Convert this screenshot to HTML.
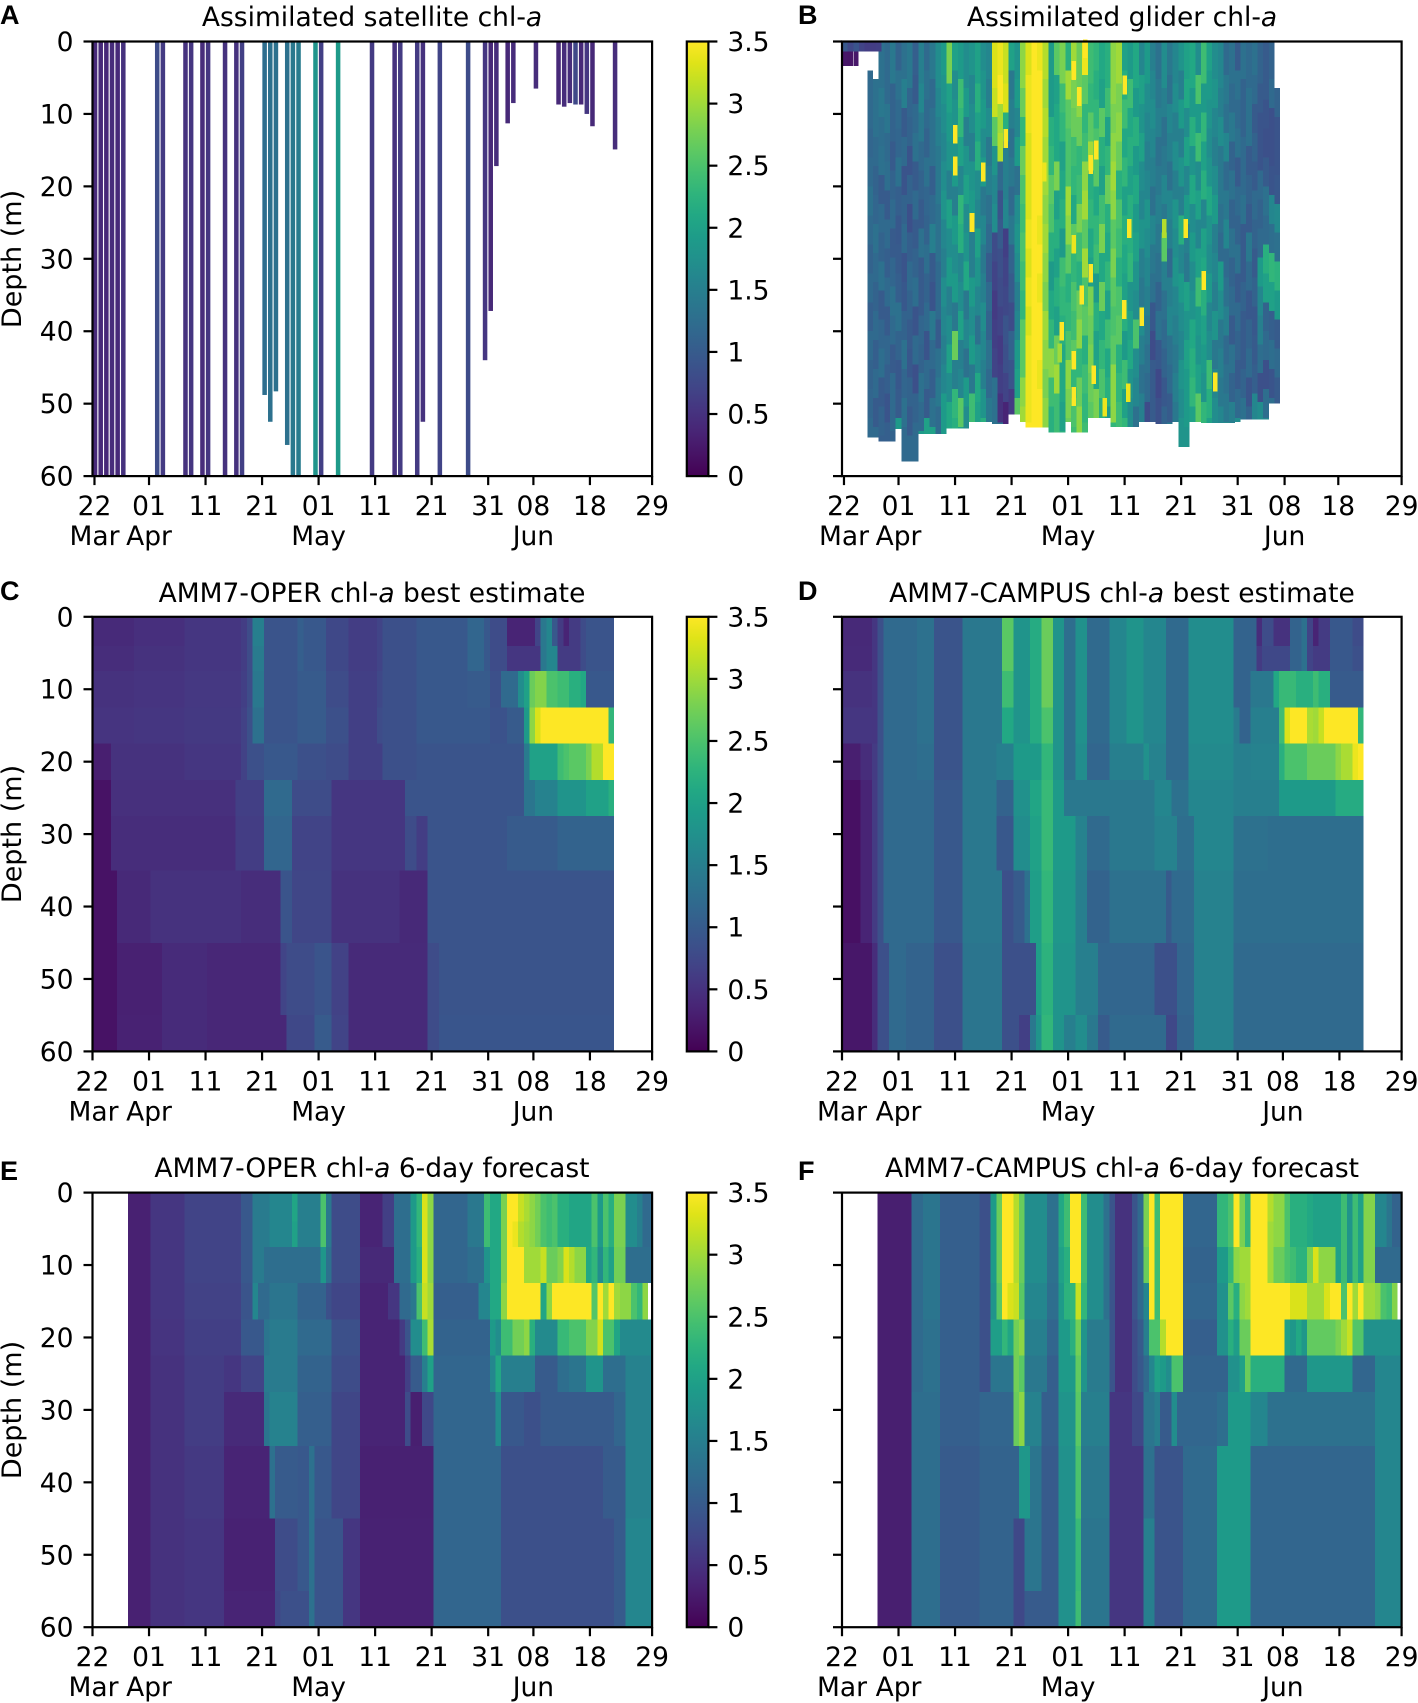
<!DOCTYPE html>
<html lang="en">
<head>
<meta charset="utf-8">
<title>Chlorophyll-a depth-time panels</title>
<style>
html,body{margin:0;padding:0;background:#fff}
svg{display:block}
text{font-family:"DejaVu Sans","Liberation Sans",sans-serif;fill:#000}
.letter{font-family:"Liberation Sans",sans-serif;font-weight:bold;font-size:27px}
.title{font-size:26.5px;text-anchor:middle}
.tick{font-size:26.5px}
.axis-title{font-size:27px}
</style>
</head>
<body>
<svg id="figure" xmlns="http://www.w3.org/2000/svg" width="1418" height="1703" viewBox="0 0 1418 1703">
<defs>
<linearGradient id="viridis-gradient" x1="0" y1="1" x2="0" y2="0"></linearGradient>
</defs>
<g id="plots"></g>
<text class="letter" x="0" y="24">A</text>
<text class="letter" x="798" y="24">B</text>
<text class="letter" x="0" y="600">C</text>
<text class="letter" x="798" y="600">D</text>
<text class="letter" x="0" y="1180">E</text>
<text class="letter" x="798" y="1180">F</text>
<text class="title" x="372" y="26">Assimilated satellite chl-<tspan font-style="italic">a</tspan></text>
<text class="title" x="1122" y="26">Assimilated glider chl-<tspan font-style="italic">a</tspan></text>
<text class="title" x="372" y="602">AMM7-OPER chl-<tspan font-style="italic">a</tspan> best estimate</text>
<text class="title" x="1122" y="602">AMM7-CAMPUS chl-<tspan font-style="italic">a</tspan> best estimate</text>
<text class="title" x="372" y="1177">AMM7-OPER chl-<tspan font-style="italic">a</tspan> 6-day forecast</text>
<text class="title" x="1122" y="1177">AMM7-CAMPUS chl-<tspan font-style="italic">a</tspan> 6-day forecast</text>
<text class="axis-title" text-anchor="middle" transform="translate(21 259) rotate(-90)">Depth (m)</text>
<text class="axis-title" text-anchor="middle" transform="translate(21 834) rotate(-90)">Depth (m)</text>
<text class="axis-title" text-anchor="middle" transform="translate(21 1410) rotate(-90)">Depth (m)</text>
</svg>
<script>
// ---------- colour map ----------
const viridisStops = ["#440154","#471365","#482475","#463480","#414487","#3b528b","#355f8d","#2f6c8e","#2a788e","#25848e","#21918c","#1e9c89","#22a884","#2fb47c","#44bf70","#5ec962","#7ad151","#9bd93c","#bddf26","#dfe318","#fde725"];
const colorTicks = [0,0.5,1,1.5,2,2.5,3,3.5];
const colorTickLabels = ["0","0.5","1","1.5","2","2.5","3","3.5"];
const depthTicks = [0,10,20,30,40,50,60];

// ---------- x axes: days since 22 March ----------
const dateLabels = ["22","01","11","21","01","11","21","31","08","18","29"];
const monthLabels = ["Mar","Apr","May","Jun"];
const monthTickIndex = [0,1,4,8];
const satelliteTickDays = [0.35,10,20,30,40,50,60,70,78,88,99];
const gliderTickDays = [0.35,10,20,30,40,50,60,70,78.3,87.8,99];
const modelTickDays = [0,10,20,30,40,50,60,70,78,88,99];

// ---------- model layers: depth boundaries in metres ----------
const layerEdges = [0,4,7.5,12.5,17.5,22.5,27.5,35,45,55,60];

// ---------- A: satellite (day, chl-a, penetration depth) ----------
const satelliteDays = [0,1,2,3,4,5,11,12,16,17,19,20,23,25,26,30,31,32,34,35,36,39,40,43,49,53,54,57,58,61,66,69,70,71,73,74,78,82,83,84,85,86,87,88,92];
const satelliteValues = [0.4,0.42,0.4,0.45,0.42,0.5,0.8,0.6,0.5,0.55,0.45,0.55,0.5,0.5,0.65,1.25,1.3,1.3,1.3,1.4,1.45,1.8,0.65,1.9,0.6,0.5,0.6,0.6,0.5,0.7,0.8,0.55,0.4,0.45,0.4,0.45,0.45,0.4,0.45,0.45,0.75,0.4,0.55,0.4,0.45];
const satelliteDepths = [60,60,60,60,60,60,60,60,60,60,60,60,60,60,60,48.8,52.5,48.3,55.7,60,60,60,60,60,60,60,60,60,52.5,60,60,44,37.2,17.2,11.3,8.5,6.5,8.7,9,8.5,8.7,8.7,10,11.7,14.9];

// ---------- B: glider (one array per 4 m depth band, days 5..77) ----------
const gliderFirstDay = 5;
const gliderBandDepth = 4;
const gliderBand00 = [null,null,1.3,1.2,1.4,1.1,1.3,1.4,1.05,1.5, 1.2,1.4,1.7,1.9,2.8,2.0,1.9,1.7,1.8,2.0, 1.7,1.6,3.3,3.4,3.2,2.0,1.8,2.9,3.3,3.5, 3.4,3.1,1.9,2.6,2.8,2.2,3.0,2.7,3.4,2.4, 2.3,2.1,2.2,2.9,3.0,2.0,1.9,2.1,1.6,1.9, 1.5,1.3,1.7,1.4,1.6,1.8,2.0,2.1,1.7,2.4, 2.0,1.7,1.6,1.2,1.3,1.0,1.3,1.2,1.3,1.1, 1.0,1.1,null];
const gliderBand04 = [1.2,1.3,1.4,1.2,1.1,1.3,1.5,1.15,1.0,1.6, 1.3,1.2,1.6,1.8,2.0,1.7,2.4,1.9,1.6,2.2, 1.8,1.5,3.2,3.5,3.3,1.4,1.9,2.7,3.4,3.5, 3.5,3.0,1.9,2.0,2.4,3.0,2.8,2.9,2.6,2.3, 2.2,2.0,2.4,2.9,2.8,2.2,2.4,1.9,2.0,1.7, 1.6,1.4,1.5,1.3,1.7,1.5,2.1,1.9,2.5,1.9, 1.9,1.8,1.5,1.4,1.2,1.3,1.1,1.3,1.2,1.0, 1.0,1.2,1.1];
const gliderBand08 = [1.2,1.3,1.25,1.35,1.1,1.2,1.0,1.1,1.2,1.4, 1.2,1.3,1.5,1.7,1.9,1.8,2.3,1.5,1.7,2.0, 1.9,1.7,2.6,3.0,2.2,1.5,1.6,2.3,3.4,3.5, 3.5,3.1,2.2,2.1,2.3,2.6,2.7,2.7,2.3,2.6, 2.3,2.6,2.0,2.8,2.9,2.4,2.1,2.2,1.8,1.6, 1.7,1.5,1.3,1.6,1.5,1.9,1.7,2.2,1.9,2.3, 1.8,1.6,1.7,1.3,1.4,1.2,1.1,1.3,1.0,0.9, 0.9,0.85,0.9];
const gliderBand12 = [1.15,1.2,1.3,1.2,1.0,1.15,1.2,0.9,1.3,1.2, 1.1,1.3,1.4,1.6,1.8,1.8,2.0,1.8,1.5,2.2, 1.7,1.4,1.8,3.1,1.5,1.3,1.9,2.7,3.3,3.5, 3.5,3.0,2.3,2.1,2.0,2.5,2.4,2.3,2.4,3.0, 2.5,2.2,2.3,2.9,2.7,2.1,2.2,1.9,2.0,1.5, 1.6,1.3,1.4,1.5,1.7,1.5,2.0,1.8,2.4,2.0, 1.7,1.5,1.4,1.6,1.1,1.3,1.2,1.0,1.1,0.9, 0.85,0.85,0.9];
const gliderBand16 = [1.2,1.1,1.0,1.25,1.1,1.3,0.9,1.1,1.0,1.1, 1.3,1.05,1.4,1.7,1.5,1.9,1.6,2.0,1.8,1.7, 1.9,1.5,1.6,1.2,1.5,1.4,1.3,2.5,3.3,3.5, 3.5,3.0,2.6,2.8,2.1,2.5,2.3,2.4,2.9,2.2, 2.6,2.0,2.7,3.0,2.2,2.3,2.0,2.1,1.7,1.6, 1.5,1.4,1.6,1.3,1.5,1.8,1.6,2.1,1.7,2.2, 1.8,1.7,1.4,1.2,1.3,1.0,1.2,1.1,1.0,1.2, 1.0,0.9,0.95];
const gliderBand20 = [1.3,1.15,1.2,1.0,1.2,1.05,1.1,0.85,1.2,1.0, 1.15,1.2,1.3,1.8,2.0,1.5,2.3,1.7,1.9,1.6, 1.4,1.3,1.7,0.9,1.6,1.2,1.7,2.4,3.3,3.5, 3.5,2.9,2.5,2.0,2.2,3.0,2.1,2.8,3.0,2.3, 2.1,2.4,2.2,2.9,2.5,2.0,2.2,1.9,1.6,1.8, 1.3,1.5,1.4,1.6,1.8,1.5,1.9,1.7,2.0,1.6, 2.1,1.9,1.3,1.4,1.1,1.2,1.3,1.0,1.2,1.1, 1.3,1.6,1.65];
const gliderBand24 = [1.2,1.3,1.1,1.2,1.0,0.95,1.2,1.05,1.0,1.3, 1.1,1.5,1.3,1.6,1.7,1.9,2.2,1.8,1.5,2.0, 1.6,1.2,0.8,1.0,0.65,1.4,1.8,2.5,3.4,3.5, 3.4,3.0,2.2,2.2,1.9,2.9,2.6,2.4,2.6,2.1, 2.3,2.8,2.1,2.6,2.4,2.2,2.2,2.0,1.8,1.7, 1.6,1.4,2.6,1.5,1.7,2.2,1.5,1.9,1.6,2.0, 1.8,1.5,1.2,1.6,1.3,1.1,1.0,1.4,1.1,1.2, 1.2,1.25,1.3];
const gliderBand28 = [1.1,1.2,1.3,1.05,1.15,1.0,0.9,1.2,1.1,1.0, 1.25,1.0,1.2,1.5,1.9,1.7,1.6,2.1,1.5,1.8, 1.4,1.0,0.7,0.85,0.7,1.1,1.7,2.4,3.3,3.5, 3.5,2.9,1.9,2.0,2.4,2.6,2.3,2.2,3.0,2.0, 2.4,2.1,2.3,2.8,2.2,2.1,2.3,1.8,1.5,1.6, 1.4,1.3,1.5,1.2,1.8,1.6,1.4,1.7,2.0,2.1, 1.7,1.6,1.9,1.2,1.1,1.3,1.0,1.2,1.0,1.9, 2.2,2.3,2.25];
const gliderBand32 = [1.2,1.1,1.0,1.2,1.3,1.05,0.95,1.1,1.25,1.0, 1.1,0.9,1.2,1.7,1.5,1.9,1.7,1.4,1.9,1.6, 1.5,1.2,0.6,0.8,0.75,1.0,1.5,2.3,3.4,3.5, 3.4,2.8,2.1,2.2,2.3,2.2,2.5,2.7,2.5,2.8, 1.9,2.7,2.0,2.6,2.5,2.0,1.8,1.7,1.4,1.5, 1.3,1.1,1.3,1.5,1.6,1.9,2.0,1.8,2.4,2.2, 1.9,1.5,1.7,1.3,1.2,1.0,1.1,0.95,1.1,1.6, 2.0,2.0,1.9];
const gliderBand36 = [1.05,1.2,1.15,1.0,1.2,1.3,1.1,1.0,0.9,1.15, 1.2,1.4,1.0,1.6,1.7,1.4,2.0,1.6,1.7,1.3, 1.7,1.1,0.65,0.7,0.9,0.8,1.6,2.6,3.3,3.5, 3.5,3.0,2.3,2.0,2.2,2.3,2.4,2.9,2.6,2.7, 2.2,2.1,2.4,2.5,2.6,2.2,2.0,2.5,1.7,1.4, 0.95,1.3,1.2,1.6,1.5,1.7,1.8,2.1,1.9,2.0, 1.6,1.8,1.4,1.5,1.0,1.2,1.0,1.1,0.95,1.5, 1.1,1.05,1.0];
const gliderBand40 = [1.2,1.05,1.25,1.15,1.0,1.1,1.3,0.95,1.2,1.1, 0.9,1.2,1.3,1.5,2.0,2.7,1.5,1.3,1.9,1.7, 1.6,1.3,0.7,0.6,0.85,1.1,1.9,2.6,3.4,3.5, 3.5,2.9,2.9,2.7,2.1,2.5,2.6,2.3,2.2,2.8, 2.0,2.3,2.1,2.6,2.2,1.9,2.1,1.7,1.5,1.3, 0.8,0.95,1.1,1.3,1.4,1.6,2.0,2.2,1.8,1.9, 1.7,1.4,1.5,1.2,1.3,1.1,1.0,1.2,1.0,1.25, 1.2,1.25,1.2];
const gliderBand44 = [1.1,1.2,1.0,1.05,1.2,0.95,1.15,1.1,0.85,1.3, 1.2,1.05,1.4,1.6,1.7,1.5,1.6,1.9,1.4,2.1, 1.5,1.2,1.3,0.65,0.7,0.9,2.0,2.9,3.4,3.5, 3.4,2.8,2.4,3.0,2.1,2.9,2.3,2.7,2.4,2.7, 2.1,2.5,2.2,2.9,2.3,2.4,1.8,1.6,1.3,1.2, 1.0,0.75,0.95,1.2,1.5,1.8,1.9,2.3,2.0,1.8, 2.4,1.6,1.4,1.3,1.1,1.0,1.1,0.9,1.05,0.85, 0.85,0.9,1.0];
const gliderBand48 = [1.15,1.0,1.1,0.9,1.2,1.0,1.3,1.0,1.1,1.2, 1.0,1.3,1.2,1.9,2.1,2.3,2.6,1.7,2.4,2.0, 1.8,1.4,1.3,0.5,0.35,0.6,2.6,3.0,3.4,3.5, 3.5,2.9,2.2,2.4,2.0,2.8,2.5,2.9,2.3,2.6, 2.8,2.2,1.9,2.9,2.4,2.0,1.7,1.3,1.5,0.8, 1.0,0.85,1.1,1.0,1.4,1.7,1.9,2.0,2.6,2.3, 2.2,1.7,1.6,1.4,1.5,1.2,1.3,1.1,1.6,1.7, 1.25,1.25,1.25];
const gliderBand52 = [1.2,1.2,1.05,1.05,1.1,1.9,1.2,1.2,1.2,1.9, 2.0,2.0,2.0,1.9,2.4,2.2,2.0,2.0,2.0,2.3, 2.2,1.3,1.3,1.3,1.3,1.3,2.3,3.0,3.5,3.5, 3.5,2.9,2.4,2.4,2.2,2.7,2.4,2.4,2.4,2.3, 2.2,2.2,2.2,2.3,2.4,2.3,2.3,1.2,1.2,1.2, 1.0,1.0,1.0,1.4,1.7,1.8,1.8,2.0,2.0,2.0, 2.0,1.9,1.9,1.9,1.8,1.7,1.7,1.6,1.6,1.6, 1.6,1.5,1.5];
const gliderBottoms = [54.7,54.7,55.2,55.2,55.2,53.5,58,58,58,54.2, 54.2,54.2,54.2,54.2,53.4,53.4,53.4,53.4,52.5,52.5, 52.5,52.5,52.8,52.8,52.8,51.5,51.5,52.5,53.3,53.3, 53.3,53.3,54,54,54,52.5,54,54,54,52, 52,52,52,53.2,53.2,53.2,53.2,53.2,52.5,52.5, 52.5,52.8,52.8,52.8,52.5,56,56,52.5,52.5,52.7, 52.7,52.7,52.7,52.7,52.7,52.5,52.2,52.2,52.2,52.2, 52.2,50,50];
const gliderSpotDays = [20,20,23,50.8,57,60.8,64,49.9,53,50.6,44.5,41,38.9,38.5,42.4,44,41,44,45,42,43,41,29,50,66,25,41,46.5,35.8];
const gliderSpotDepths = [12.8,17.2,25,25.8,25.8,25.8,33,37,38,48.5,46,44,40,43,35,32,28,17,15,7.6,1,4,13.4,6,47,18,49,50.5,18];
const gliderSpotValues = [3.5,3.5,3.5,3.5,3.1,3.5,3.5,3.5,3.5,3.4,3.5,3.5,3.5,3.0,3.5,3.5,3.4,3.5,3.5,3.5,3.5,3.5,3.5,3.5,3.5,3.5,3.5,3.4,3.4];
const gliderTopStripDays = [0,1,2,3,4,5,6];
const gliderTopStripValues = [0.95,0.75,0.9,0.7,0.62,0.62,0.65];
const gliderCornerDays = [0,1,2];
const gliderCornerValues = [0.22,0.2,0.22];

// ---------- model fields: [first day, chl-a, first day, chl-a, ...] per depth layer ----------
const operBest0 = [0,.42,8,.47,17,.55,27,.62,28,.8,29,1.5,31,.9,37,1.05,38,.95,42,.75,46,.62,51,.7,52,.85,58,.95,67,1.15,70,.95,71,.8,74,.35,79,.7,80,1.4,81,1.6,82,.95,83,.6,84,.35,85,.6,87,.8,88,.9];
const operBest1 = [0,.45,8,.5,17,.55,27,.62,28,.8,29,1.45,31,.9,37,1.05,38,.95,42,.75,46,.62,51,.7,52,.85,58,.95,67,1.15,70,.95,71,.8,74,.55,80,1.4,81,1.6,83,.6,87,.8,88,.9];
const operBest2 = [0,.5,8,.52,17,.57,27,.65,28,.8,29,1.4,31,.9,37,1.0,42,.8,46,.65,51,.75,52,.85,58,.95,67,1.0,71,.85,73,1.2,76,1.7,77,2.0,78,2.7,79,2.85,81,2.5,83,2.4,85,2.2,87,2.1,88,.95];
const operBest3 = [0,.52,8,.55,17,.58,27,.68,28,.85,29,1.3,31,.9,37,1.0,42,.85,46,.65,51,.8,52,.85,58,.95,71,.88,74,1.0,77,1.9,78,2.9,79,3.3,80,3.5,92,2.3];
const operBest4 = [0,.3,4,.5,17,.55,27,.68,28,.85,31,.95,37,.85,42,.8,46,.65,52,.85,58,.9,77,1.45,78,2.0,83,2.4,84,2.5,85,2.6,88,2.8,89,3.1,91,3.5];
const operBest5 = [0,.17,4,.48,26,.65,31,1.2,36,.8,43,.55,56,.9,77,1.35,79,1.55,83,1.8,88,2.0,92,2.2];
const operBest6 = [0,.17,4,.45,26,.62,31,1.15,36,.7,43,.55,56,.8,58,.62,60,.9,74,1.0,83,1.1];
const operBest7 = [0,.17,5,.4,11,.5,27,.45,34,.9,36,.72,43,.5,55,.4,60,.9];
const operBest8 = [0,.17,5,.32,13,.43,21,.38,34,.7,35,.8,40,.9,43,.68,46,.42,60,.8,62,.9];
const operBest9 = [0,.17,5,.33,13,.43,21,.38,35,.75,40,1.0,43,.7,46,.42,60,.8,62,.92];

const campusBest0 = [0,.4,6,.55,7,.85,8,1.2,14,1.3,17,.9,22,1.4,29,2.6,31,1.8,34,2.15,36,2.7,38,1.8,40,1.25,42,1.75,44,1.2,48,1.6,51,1.8,54,1.6,58,1.2,62,1.7,70,1.1,74,.45,75,.8,77,.5,80,1.1,82,1.3,83,.7,84,.35,85,.6,87,.95,91,.8];
const campusBest1 = [0,.42,6,.55,7,.85,8,1.2,14,1.3,17,.9,22,1.4,29,2.6,31,1.8,34,2.15,36,2.7,38,1.8,40,1.25,42,1.75,44,1.2,48,1.6,51,1.8,54,1.6,58,1.2,62,1.7,70,1.1,74,.6,75,.75,80,1.1,82,1.3,83,.7,84,.6,87,.95,91,.85];
const campusBest2 = [0,.5,6,.55,7,.85,8,1.2,14,1.3,17,.9,22,1.4,29,2.4,31,1.8,34,2.15,36,2.7,38,1.8,40,1.25,42,1.75,44,1.2,48,1.6,51,1.8,54,1.6,58,1.2,62,1.7,70,1.1,73,1.4,77,2.1,78,2.35,81,2.2,84,2.4,85,2.2,87,1.0];
const campusBest3 = [0,.55,6,.55,7,.85,8,1.2,14,1.3,17,.9,22,1.4,29,2.1,31,1.8,34,2.15,36,2.5,38,1.8,40,1.25,42,1.75,44,1.2,48,1.6,51,1.8,54,1.6,58,1.2,62,1.7,70,1.45,71,1.1,73,1.5,78,2.4,79,3.3,80,3.5,83,3.05,84,3.0,85,3.2,86,3.5,92,2.3];
const campusBest4 = [0,.3,4,.45,6,.6,7,.85,8,1.2,14,1.25,17,.9,22,1.4,28,1.5,31,1.9,36,2.3,38,1.8,40,1.25,42,1.7,44,1.15,48,1.5,54,1.75,55,1.55,58,1.2,62,1.65,70,1.5,73,1.55,78,2.2,79,2.5,83,2.7,88,2.9,89,3.05,91,3.4,92,3.5];
const campusBest5 = [0,.15,4,.35,6,.6,7,.85,8,1.2,17,.95,22,1.4,28,1.1,31,1.75,34,2.05,36,2.35,38,1.9,40,1.4,48,1.4,56,1.6,59,1.3,62,1.6,70,1.5,78,1.9,88,2.15];
const campusBest6 = [0,.15,4,.35,6,.6,7,.85,8,1.2,17,.95,22,1.4,28,.95,31,1.7,34,2.0,36,2.35,38,1.9,42,1.55,44,1.2,48,1.4,56,1.55,60,1.25,63,1.6,70,1.3,76,1.25];
const campusBest7 = [0,.15,4,.35,6,.6,7,.85,8,1.2,17,.95,22,1.4,29,.85,31,1.0,33,1.3,34,1.95,36,2.3,38,1.85,42,1.5,44,1.1,48,1.3,58,1.0,59,1.2,63,1.55,70,1.25];
const campusBest8 = [0,.22,6,.45,7,.85,9,1.2,12,1.1,17,.85,22,1.35,29,.85,35,1.95,36,2.25,38,1.8,42,1.5,46,1.15,56,.85,60,1.15,63,1.55,70,1.2];
const campusBest9 = [0,.22,6,.45,7,.85,9,1.2,12,1.1,17,.85,22,1.35,29,.85,32,.65,34,1.4,35,1.8,36,2.3,38,1.8,40,1.5,42,1.7,44,1.4,46,1.0,48,1.2,58,.75,60,1.1,63,1.55,70,1.2];

const operForecast0 = [7,.32,11,.55,17,.7,27,.95,29,1.45,32,1.6,36,2.05,37,1.5,41,2.5,42,1.4,43,.8,48,.35,52,.65,54,1.25,57,1.9,58,2.3,59,3.3,60,2.9,61,1.15,67,1.4,70,2.4,71,2.1,73,2.8,74,3.5,76,3.2,77,3.05,78,2.9,79,2.75,80,2.5,81,2.4,82,2.5,83,2.2,85,2.05,89,2.5,90,1.9,91,2.5,92,2.2,93,2.8,95,1.7,97,1.5,98,1.2];
const operForecast1 = [7,.32,11,.55,17,.7,27,.95,29,1.45,32,1.6,36,2.0,37,1.5,41,2.5,42,1.4,43,.8,48,.35,52,.65,54,1.25,57,1.9,58,2.3,59,3.3,60,2.9,61,1.15,67,1.4,70,2.4,71,2.1,73,2.8,74,3.5,75,3.4,76,3.1,77,3.0,78,2.9,79,2.75,80,2.5,81,2.4,82,2.5,83,2.2,85,2.05,89,2.5,90,1.9,91,2.5,92,2.2,93,2.8,95,1.7,97,1.5,98,1.2];
const operForecast2 = [7,.32,11,.55,17,.7,27,.95,29,1.45,31,1.25,41,1.85,42,1.3,43,.8,48,.4,54,1.25,57,1.9,58,2.2,59,3.3,60,2.9,61,1.15,67,1.25,70,1.8,71,2.1,73,2.8,74,3.5,77,3.0,80,3.2,81,2.7,83,2.85,84,3.3,85,3.1,86,2.9,88,2.1,89,2.3,90,1.7,91,2.3,92,2.0,93,2.75,95,1.25];
const operForecast3 = [7,.32,11,.55,17,.68,27,.9,29,1.6,30,1.2,32,1.35,37,1.1,42,.85,43,.72,48,.35,53,.55,55,1.2,57,1.4,58,2.5,59,3.2,60,3.0,61,1.05,69,1.6,71,2.1,73,2.9,74,3.5,80,2.05,81,2.9,82,3.5,89,2.55,90,3.5,91,3.0,92,3.5,93,3.0,94,2.9,96,2.5,97,2.3,98,2.9,99,null];
const operForecast4 = [7,.32,11,.52,17,.65,27,.95,31,1.35,32,1.45,37,1.2,43,.85,48,.35,55,.6,56,.9,57,1.7,59,2.4,60,3.05,61,1.1,71,1.9,72,1.7,73,2.4,75,2.75,77,2.9,78,2.2,79,1.65,83,2.35,85,2.5,88,2.85,90,3.25,91,2.5,93,2.05,94,1.65];
const operForecast5 = [7,.32,11,.5,17,.62,24,.55,27,.7,31,1.45,37,1.1,43,.8,48,.35,56,.65,57,1.0,59,1.5,60,2.0,61,1.15,71,1.6,72,2.1,73,1.5,79,1.0,83,1.25,85,1.35,88,1.8,91,1.25,95,1.55];
const operForecast6 = [7,.32,11,.5,17,.62,24,.42,31,1.35,32,1.55,37,1.05,43,.72,48,.35,56,.8,57,.3,59,.75,61,1.15,72,1.7,73,.95,77,.85,80,1.0,93,1.15,95,1.55];
const operForecast7 = [7,.32,11,.5,17,.58,24,.35,32,1.3,33,1.0,37,.95,39,1.3,40,.95,43,.72,48,.32,61,1.15,73,.85,91,1.0,95,1.55];
const operForecast8 = [7,.32,11,.5,17,.55,24,.33,33,.8,37,.95,39,1.3,40,.9,45,.55,48,.33,61,1.15,73,.85,93,1.0,95,1.6];
const operForecast9 = [7,.32,11,.5,17,.55,24,.35,33,.75,34,.85,39,1.3,40,.9,45,.55,48,.33,61,1.15,73,.85,93,1.0,95,1.6];

const campusForecast0 = [7,.3,13,1.2,15,1.35,18,1.05,25,.85,27,1.9,28,2.7,29,3.5,31,3.1,32,2.7,33,1.7,37,1.3,39,2.1,40,2.4,41,3.5,43,2.4,44,1.7,47,1.3,48,.9,49,.5,52,.9,53,1.2,54,2.8,55,3.5,56,2.4,57,3.5,61,1.15,67,2.3,69,2.5,70,3.5,71,2.8,72,2.3,73,3.5,76,3.1,77,2.9,79,2.5,80,2.2,83,2.1,84,2.0,89,2.4,90,1.8,91,2.4,92,2.0,93,2.85,95,1.6,97,1.35,98,1.1];
const campusForecast1 = [7,.3,13,1.2,15,1.35,18,1.05,25,.85,27,1.9,28,2.7,29,3.5,31,3.1,32,2.7,33,1.7,37,1.3,39,2.1,40,2.4,41,3.5,43,2.4,44,1.7,47,1.3,48,.9,49,.5,52,.9,53,1.2,54,2.8,55,3.5,56,2.4,57,3.5,61,1.15,67,2.3,69,2.5,70,3.5,71,2.8,72,2.3,73,3.5,76,3.0,77,2.9,79,2.5,80,2.2,83,2.1,84,2.0,89,2.4,90,1.8,91,2.4,92,2.0,93,2.85,95,1.6,97,1.35,98,1.1];
const campusForecast2 = [7,.3,13,1.2,15,1.35,18,1.05,25,.85,27,1.9,28,2.7,29,3.5,31,3.1,32,2.7,33,1.7,37,1.3,39,2.0,40,2.2,41,3.5,43,2.4,44,1.7,47,1.3,48,.9,49,.5,52,.9,53,1.2,54,2.7,55,3.5,56,2.4,57,3.5,61,1.1,67,1.9,69,2.3,70,2.9,71,3.0,73,3.5,76,3.0,77,2.7,79,2.5,80,2.4,81,2.25,83,2.8,84,3.3,85,2.9,88,2.0,89,2.4,90,1.8,91,2.4,92,2.0,93,2.85,95,1.2];
const campusForecast3 = [7,.3,13,1.2,15,1.35,18,1.05,25,.85,27,1.8,28,2.6,29,3.5,30,3.3,31,3.2,32,2.6,33,1.6,37,1.25,39,1.9,40,2.25,41,2.3,42,3.2,43,2.3,44,1.7,47,1.3,48,.9,49,.5,52,.9,53,1.2,54,1.6,55,3.5,56,2.4,57,3.5,61,1.15,67,1.75,69,2.6,70,2.2,71,2.9,72,3.0,73,3.5,80,3.3,83,3.0,86,3.3,87,3.5,89,2.5,90,3.5,91,3.0,92,3.5,93,3.0,95,2.9,96,2.5,97,2.4,98,2.85,99,null];
const campusForecast4 = [7,.3,13,1.2,15,1.3,18,1.05,25,.85,27,1.95,29,2.3,30,2.05,31,2.75,32,2.9,33,1.5,37,1.15,39,1.9,41,2.2,42,2.75,43,1.8,44,1.45,48,.9,49,.5,52,.8,53,1.0,54,1.5,55,2.5,57,3.1,58,3.5,61,1.05,67,1.75,69,2.2,70,1.95,71,2.7,73,3.5,79,2.0,80,1.85,81,2.1,82,1.85,83,2.65,88,2.8,89,3.0,90,3.2,91,2.55,93,1.75];
const campusForecast5 = [7,.3,13,1.2,15,1.3,18,1.05,25,.85,27,1.35,31,2.75,32,2.6,33,1.4,37,1.05,39,1.9,42,2.65,43,1.8,44,1.45,48,.9,49,.5,52,.8,53,.95,54,1.2,55,1.6,56,2.0,57,1.9,58,1.7,59,2.5,61,1.1,69,1.75,71,2.0,72,2.7,73,2.2,79,1.2,83,1.85,91,1.15,95,1.6];
const campusForecast6 = [7,.3,13,1.25,18,1.05,25,1.15,31,2.7,32,2.9,33,1.55,36,1.05,39,1.8,42,2.6,43,1.5,48,.55,52,.75,54,1.35,56,1.5,57,1.0,59,1.7,60,1.15,67,1.25,69,1.9,73,1.6,76,1.3,95,1.6];
const campusForecast7 = [7,.3,13,1.25,18,1.0,25,1.1,32,1.85,34,1.35,36,1.0,39,1.75,42,2.5,43,1.4,48,.55,54,1.3,56,.9,61,1.2,67,1.9,73,1.15,95,1.6];
const campusForecast8 = [7,.3,13,1.25,18,1.0,25,1.1,31,.75,33,1.35,36,1.0,39,1.75,42,2.35,43,1.35,48,.55,54,1.5,56,.9,61,1.2,67,1.9,73,1.15,95,1.6];
const campusForecast9 = [7,.3,13,1.25,18,1.0,25,1.1,31,.75,33,1.0,36,1.0,39,1.75,42,2.4,43,1.35,48,.55,54,1.5,56,.9,61,1.2,67,1.9,73,1.15,95,1.6];

// ---------- renderer ----------
const SVGNS = "http://www.w3.org/2000/svg";
const domainDays = 99, domainDepth = 60, colorMax = 3.5;
const plots = document.getElementById("plots");

function hexToRgb(h){return [parseInt(h.slice(1,3),16),parseInt(h.slice(3,5),16),parseInt(h.slice(5,7),16)];}
function colorScale(v){
  const t = Math.max(0,Math.min(1,v/colorMax))*(viridisStops.length-1);
  const i = Math.min(viridisStops.length-2,Math.floor(t));
  const a = hexToRgb(viridisStops[i]), b = hexToRgb(viridisStops[i+1]), f = t-i;
  return "rgb("+a.map((c,j)=>Math.round(c+(b[j]-c)*f)).join(",")+")";
}
function xScale(panel,day){return panel.left+day/domainDays*panel.width;}
function yScale(panel,depth){return panel.top+depth/domainDepth*panel.height;}
function colorY(panel,v){return panel.top+panel.height-v/colorMax*panel.height;}
function make(tag,attrs,parent){
  const el=document.createElementNS(SVGNS,tag);
  for(const k in attrs){el.setAttribute(k,attrs[k]);}
  parent.appendChild(el);
  return el;
}
function clampDay(d){return Math.max(0,Math.min(domainDays,d));}

function drawCell(panel,group,d0,d1,z0,z1,v){
  const x0=xScale(panel,clampDay(d0)),x1=xScale(panel,clampDay(d1));
  const y0=yScale(panel,z0),y1=yScale(panel,z1);
  const el=make("rect",{x:x0,y:y0,width:Math.max(0,x1-x0),height:Math.max(0,y1-y0),fill:colorScale(v),"shape-rendering":"crispEdges"},group);
  
  
}

function drawModelField(panel,group,layers,endColumn){
  layers.forEach((runs,li)=>{
    for(let i=0;i<runs.length;i+=2){
      const start=runs[i], v=runs[i+1];
      const next=i+2<runs.length?runs[i+2]:endColumn;
      if(v===null){continue;}
      drawCell(panel,group,start-0.7,next-0.7,layerEdges[li],layerEdges[li+1],v);
    }
  });
}

function drawSatellite(panel,group){
  satelliteDays.forEach((day,i)=>{
    const c=xScale(panel,day+0.45), w=xScale(panel,0.8)-xScale(panel,0);
    const el=make("rect",{x:c-w/2,y:yScale(panel,0),width:w,height:yScale(panel,satelliteDepths[i])-yScale(panel,0),fill:colorScale(satelliteValues[i])},group);
    
    
  });
}

function drawGlider(panel,group){
  const bands=[gliderBand00,gliderBand04,gliderBand08,gliderBand12,gliderBand16,gliderBand20,gliderBand24,gliderBand28,gliderBand32,gliderBand36,gliderBand40,gliderBand44,gliderBand48,gliderBand52];
  bands.forEach((values,b)=>{
    values.forEach((v,i)=>{
      if(v===null){return;}
      // dives start at slightly different depths, so band edges are staggered per column
      const stagger=(i*7)%5*0.6;
      const z0=b===0?0:b*gliderBandDepth+stagger;
      const bottom=gliderBottoms[i];
      const z1=b===bands.length-1?bottom:Math.min(bottom,(b+1)*gliderBandDepth+stagger);
      if(z1<=z0){return;}
      const day=gliderFirstDay+i;
      drawCell(panel,group,day-0.5,day+0.5,z0,z1,v);
    });
  });
  gliderTopStripDays.forEach((day,i)=>{drawCell(panel,group,day,day+1,0,1.4,gliderTopStripValues[i]);});
  gliderCornerDays.forEach((day,i)=>{drawCell(panel,group,day,day+0.95,1.4,3.4,gliderCornerValues[i]);});
  gliderSpotDays.forEach((day,i)=>{drawCell(panel,group,day-0.4,day+0.4,gliderSpotDepths[i]-1.3,gliderSpotDepths[i]+1.3,gliderSpotValues[i]);});
}

function drawFrameAndTicks(panel,group){
  const axisColor="#000", sw=2.2, tickLen=9;
  const frame=make("rect",{x:panel.left,y:panel.top,width:panel.width,height:panel.height,fill:"none",stroke:axisColor,"stroke-width":sw},group);
  
  
  const bottom=panel.top+panel.height;
  panel.tickDays.forEach((day,i)=>{
    const x=xScale(panel,day);
    const t=make("line",{x1:x,x2:x,y1:bottom,y2:bottom+tickLen,stroke:axisColor,"stroke-width":sw},group);
    
    
    const lab=make("text",{x:x,y:bottom+39,"text-anchor":"middle","class":"tick"},group);
    lab.textContent=dateLabels[i];
    
    
  });
  monthTickIndex.forEach((ti,i)=>{
    const x=xScale(panel,panel.tickDays[ti]);
    const lab=make("text",{x:x+(i===0?panel.marShift:0),y:bottom+69,"text-anchor":"middle","class":"tick"},group);
    lab.textContent=monthLabels[i];
    
    
  });
  depthTicks.forEach(z=>{
    const y=yScale(panel,z);
    const t=make("line",{x1:panel.left-tickLen,x2:panel.left,y1:y,y2:y,stroke:axisColor,"stroke-width":sw},group);
    
    
    if(panel.yLabels){
      const lab=make("text",{x:panel.left-19,y:y+9.5,"text-anchor":"end","class":"tick"},group);
      lab.textContent=String(z);
      
      
    }
  });
}

function drawColorbar(panel,group){
  const left=686.8,width=21.6,sw=2.2;
  const bar=make("rect",{x:left,y:panel.top,width:width,height:panel.height,fill:"url(#viridis-gradient)",stroke:"#000","stroke-width":sw},group);
  
  
  colorTicks.forEach((v,i)=>{
    const y=colorY(panel,v);
    const t=make("line",{x1:left+width,x2:left+width+9,y1:y,y2:y,stroke:"#000","stroke-width":sw},group);
    
    
    const lab=make("text",{x:left+width+19,y:y+9.5,"class":"tick"},group);
    lab.textContent=colorTickLabels[i];
    
    
  });
}

const gradient=document.getElementById("viridis-gradient");
viridisStops.forEach((c,i)=>{
  const s=document.createElementNS(SVGNS,"stop");
  s.setAttribute("offset",i/(viridisStops.length-1));
  s.setAttribute("stop-color",c);
  gradient.appendChild(s);
});

const leftX=92.5,rightX=842,panelW=559.6,panelH=434.6;
const rowA=41.5,rowC=616.8,rowE=1192.6;
const panels=[
 {id:"satellite-panel",left:leftX,top:rowA,width:panelW,height:panelH,tickDays:satelliteTickDays,yLabels:true,colorbar:true,marShift:0,
  draw:(p,g)=>drawSatellite(p,g)},
 {id:"glider-panel",left:rightX,top:rowA,width:panelW,height:panelH,tickDays:gliderTickDays,yLabels:false,colorbar:false,marShift:0,
  draw:(p,g)=>drawGlider(p,g)},
 {id:"oper-best-panel",left:leftX,top:rowC,width:panelW,height:panelH,tickDays:modelTickDays,yLabels:true,colorbar:true,marShift:1,
  draw:(p,g)=>drawModelField(p,g,[operBest0,operBest1,operBest2,operBest3,operBest4,operBest5,operBest6,operBest7,operBest8,operBest9],93)},
 {id:"campus-best-panel",left:rightX,top:rowC,width:panelW,height:panelH,tickDays:modelTickDays,yLabels:false,colorbar:false,marShift:0,
  draw:(p,g)=>drawModelField(p,g,[campusBest0,campusBest1,campusBest2,campusBest3,campusBest4,campusBest5,campusBest6,campusBest7,campusBest8,campusBest9],93)},
 {id:"oper-forecast-panel",left:leftX,top:rowE,width:panelW,height:panelH,tickDays:modelTickDays,yLabels:true,colorbar:true,marShift:1,
  draw:(p,g)=>drawModelField(p,g,[operForecast0,operForecast1,operForecast2,operForecast3,operForecast4,operForecast5,operForecast6,operForecast7,operForecast8,operForecast9],100)},
 {id:"campus-forecast-panel",left:rightX,top:rowE,width:panelW,height:panelH,tickDays:modelTickDays,yLabels:false,colorbar:false,marShift:0,
  draw:(p,g)=>drawModelField(p,g,[campusForecast0,campusForecast1,campusForecast2,campusForecast3,campusForecast4,campusForecast5,campusForecast6,campusForecast7,campusForecast8,campusForecast9],100)}
];

panels.forEach(panel=>{
  const g=make("g",{},plots);
  
  
  panel.draw(panel,g);
  drawFrameAndTicks(panel,g);
  if(panel.colorbar){drawColorbar(panel,g);}
});
</script>
</body>
</html>
